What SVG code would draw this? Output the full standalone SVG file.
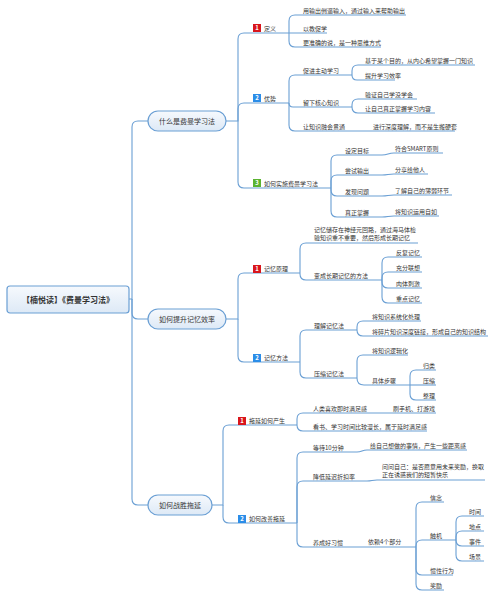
<svg xmlns="http://www.w3.org/2000/svg" width="494" height="599" viewBox="0 0 494 599">
<defs>
<linearGradient id="ng" x1="0" y1="0" x2="0" y2="1">
<stop offset="0" stop-color="#f6f9fd"/>
<stop offset="1" stop-color="#dde9f6"/>
</linearGradient>
<style>
text{font-family:"Noto Sans CJK SC","Noto Sans",sans-serif;fill:#333}
.t{font-size:6px}
.l1{font-size:7px;text-anchor:middle}
.root{font-size:8px;font-weight:bold;text-anchor:middle}
.n{fill:url(#ng);stroke:#6a9fd4;stroke-width:1.2}
.c path{fill:none;stroke:#6a9fd4;stroke-width:1.1}
.ic{font-size:6px;font-weight:bold;fill:#fff;text-anchor:middle}
.r{fill:#d9161c}.b{fill:#2b8de8}.g{fill:#5bb331}
</style>
</defs>
<rect width="494" height="599" fill="#fff"/>
<g class="c" id="connectors">
<path d="M129,299 H132 V127 Q132,121 138,121 H148"/>
<path d="M132,299 V313 Q132,319 138,319 H148"/>
<path d="M132,299 V499 Q132,505 138,505 H148"/>
<path d="M226,121 H238 V39 Q238,33 244,33 H289"/>
<path d="M238,121 V109 Q238,103 244,103 H289"/>
<path d="M238,121 V182 Q238,188 244,188 H331"/>
<path d="M289,33 V21 Q289,15 295,15 H406"/>
<path d="M289,33 H327"/>
<path d="M289,33 V41 Q289,47 295,47 H381"/>
<path d="M289,103 V81 Q289,75 295,75 H352"/>
<path d="M289,103 Q289,107 293,107 H352"/>
<path d="M289,103 V125 Q289,131 295,131 H455"/>
<path d="M352,75 V71 Q352,65 358,65 H475"/>
<path d="M352,75 Q352,80 357,80 H395"/>
<path d="M352,107 V105 Q352,99 358,99 H417"/>
<path d="M352,107 Q352,113 358,113 H435"/>
<path d="M331,188 V161 Q331,155 337,155 H382 C388,155 388,153 394,153 H443"/>
<path d="M331,188 V181 Q331,175 337,175 H382 C388,175 388,174 394,174 H428"/>
<path d="M331,188 V190 Q331,196 337,196 H382 C388,196 388,195 394,195 H452"/>
<path d="M331,188 V211 Q331,217 337,217 H382 C388,217 388,216 394,216 H439"/>
<path d="M226,319 H238 V279 Q238,273 244,273 H300"/>
<path d="M238,319 V356 Q238,362 244,362 H300"/>
<path d="M300,273 V249 Q300,243 306,243 H418"/>
<path d="M300,273 V274 Q300,280 306,280 H382"/>
<path d="M382,280 V263 Q382,257 388,257 H422"/>
<path d="M382,280 V278 Q382,272 388,272 H422"/>
<path d="M382,280 V282 Q382,288 388,288 H422"/>
<path d="M382,280 V297 Q382,303 388,303 H422"/>
<path d="M300,362 V336 Q300,330 306,330 H357"/>
<path d="M300,362 V372 Q300,378 306,378 H357"/>
<path d="M357,330 V327 Q357,321 363,321 H421"/>
<path d="M357,330 Q357,336 363,336 H488"/>
<path d="M357,378 V361 Q357,355 363,355 H408"/>
<path d="M357,378 Q357,385 364,385 H410"/>
<path d="M410,385 V376 Q410,370 416,370 H436"/>
<path d="M410,385 H436"/>
<path d="M410,385 V394 Q410,400 416,400 H436"/>
<path d="M212,505 H223 V431 Q223,425 229,425 H297"/>
<path d="M223,505 V517 Q223,523 229,523 H297"/>
<path d="M297,425 V419 Q297,413 303,413 H436"/>
<path d="M297,425 Q297,431 303,431 H427"/>
<path d="M297,523 V458 Q297,452 303,452 H357 C362,452 362,450 367,450 H467"/>
<path d="M297,523 V487 Q297,481 303,481 H367 C372,481 372,480 377,480 H485"/>
<path d="M297,523 V541 Q297,547 303,547 H416"/>
<path d="M416,547 V508 Q416,502 422,502 H444"/>
<path d="M416,547 V546 Q416,540 422,540 H456"/>
<path d="M416,547 V569 Q416,575 422,575 H453"/>
<path d="M416,547 V584 Q416,590 422,590 H444"/>
<path d="M456,540 V522 Q456,516 462,516 H484"/>
<path d="M456,540 V537 Q456,531 462,531 H484"/>
<path d="M456,540 Q456,546 462,546 H484"/>
<path d="M456,540 V555 Q456,561 462,561 H484"/>
</g>
<g id="root"><rect class="n" x="7" y="286" width="122" height="27" rx="3"/><text class="root" x="68" y="302.5">【楠悦读】《费曼学习法》</text></g>
<g id="n1"><rect class="n" x="148" y="111" width="78" height="20" rx="10"/><text class="l1" x="187" y="123.5">什么是费曼学习法</text></g>
<g id="n2"><rect class="n" x="148" y="309" width="78" height="20" rx="10"/><text class="l1" x="187" y="321.5">如何提升记忆效率</text></g>
<g id="n3"><rect class="n" x="148" y="495" width="64" height="20" rx="10"/><text class="l1" x="180" y="507.5">如何战胜拖延</text></g>
<g id="n1-1"><rect class="r" x="253" y="24" width="8" height="8"/><text class="ic" x="257" y="30.3">1</text><text class="t" x="264" y="30.5">定义</text></g>
<g id="n1-1-1"><text class="t" x="303" y="12.5">用输出倒逼输入，通过输入来帮助输出</text></g>
<g id="n1-1-2"><text class="t" x="303" y="30.5">以教促学</text></g>
<g id="n1-1-3"><text class="t" x="303" y="44.5">更准确的说，是一种思维方式</text></g>
<g id="n1-2"><rect class="b" x="253" y="94" width="8" height="8"/><text class="ic" x="257" y="100.3">2</text><text class="t" x="264" y="100.5">优势</text></g>
<g id="n1-2-1"><text class="t" x="303" y="72.5">促进主动学习</text></g>
<g id="n1-2-1-1"><text class="t" x="365" y="62.5">基于某个目的，从内心希望掌握一门知识</text></g>
<g id="n1-2-1-2"><text class="t" x="365" y="77.5">提升学习效率</text></g>
<g id="n1-2-2"><text class="t" x="303" y="104.5">留下核心知识</text></g>
<g id="n1-2-2-1"><text class="t" x="365" y="96.5">验证自己学没学会</text></g>
<g id="n1-2-2-2"><text class="t" x="365" y="110.5">让自己真正掌握学习内容</text></g>
<g id="n1-2-3"><text class="t" x="303" y="128.5">让知识融会贯通</text></g>
<g id="n1-2-3-1"><text class="t" x="373" y="128.5">进行深度理解，而不是生搬硬套</text></g>
<g id="n1-3"><rect class="g" x="253" y="179" width="8" height="8"/><text class="ic" x="257" y="185.3">3</text><text class="t" x="264" y="185.5">如何实施费曼学习法</text></g>
<g id="n1-3-1"><text class="t" x="345" y="152.5">设定目标</text><text class="t" x="395" y="150.5">符合SMART原则</text></g>
<g id="n1-3-2"><text class="t" x="345" y="172.5">尝试输出</text><text class="t" x="395" y="171.5">分享给他人</text></g>
<g id="n1-3-3"><text class="t" x="345" y="193.5">发现问题</text><text class="t" x="395" y="192.5">了解自己的薄弱环节</text></g>
<g id="n1-3-4"><text class="t" x="345" y="214.5">真正掌握</text><text class="t" x="395" y="213.5">将知识运用自如</text></g>
<g id="n2-1"><rect class="r" x="253" y="265" width="8" height="8"/><text class="ic" x="257" y="271.3">1</text><text class="t" x="264" y="270.5">记忆原理</text></g>
<g id="n2-1-1"><text class="t" x="314" y="231.5">记忆储存在神经元回路，通过海马体检</text><text class="t" x="314" y="240">验知识重不重要，然后形成长期记忆</text></g>
<g id="n2-1-2"><text class="t" x="314" y="277.5">变成长期记忆的方法</text></g>
<g id="n2-1-2-x"><text class="t" x="396" y="254.5">反复记忆</text><text class="t" x="396" y="269.5">充分联想</text><text class="t" x="396" y="285.5">肉体刺激</text><text class="t" x="396" y="300.5">重点记忆</text></g>
<g id="n2-2"><rect class="b" x="253" y="354" width="8" height="8"/><text class="ic" x="257" y="360.3">2</text><text class="t" x="264" y="359.5">记忆方法</text></g>
<g id="n2-2-1"><text class="t" x="314" y="327.5">理解记忆法</text></g>
<g id="n2-2-1-x"><text class="t" x="372" y="318.5">将知识系统化处理</text><text class="t" x="372" y="333.5">将碎片知识深度链接，形成自己的知识结构</text></g>
<g id="n2-2-2"><text class="t" x="314" y="375.5">压缩记忆法</text></g>
<g id="n2-2-2-1"><text class="t" x="372" y="352.5">将知识逻辑化</text></g>
<g id="n2-2-2-2"><text class="t" x="372" y="382.5">具体步骤</text></g>
<g id="n2-2-2-2-x"><text class="t" x="423" y="367.5">归类</text><text class="t" x="423" y="382.5">压缩</text><text class="t" x="423" y="397.5">整理</text></g>
<g id="n3-1"><rect class="r" x="238" y="417" width="8" height="8"/><text class="ic" x="242" y="423.3">1</text><text class="t" x="249" y="422.5">拖延如何产生</text></g>
<g id="n3-1-1"><text class="t" x="313" y="410.5">人类喜欢即时满足感</text><text class="t" x="393" y="410.5">刷手机、打游戏</text></g>
<g id="n3-1-2"><text class="t" x="313" y="428.5">看书、学习时间比较漫长，属于延时满足感</text></g>
<g id="n3-2"><rect class="b" x="238" y="515" width="8" height="8"/><text class="ic" x="242" y="521.3">2</text><text class="t" x="249" y="520.5">如何改善拖延</text></g>
<g id="n3-2-1"><text class="t" x="313" y="449.5">等待10分钟</text><text class="t" x="370" y="447.5">给自己想做的事情，产生一些距离感</text></g>
<g id="n3-2-2"><text class="t" x="313" y="478.5">降低延迟折扣率</text><text class="t" x="382" y="469">问问自己：是否愿意用未来奖励，换取</text><text class="t" x="382" y="477">正在诱惑我们的短暂快乐</text></g>
<g id="n3-2-3"><text class="t" x="313" y="544.5">养成好习惯</text><text class="t" x="368" y="543.5">依赖4个部分</text></g>
<g id="n3-2-3-x"><text class="t" x="430" y="499.5">信念</text><text class="t" x="430" y="537.5">触机</text><text class="t" x="430" y="572.5">惯性行为</text><text class="t" x="430" y="587.5">奖励</text></g>
<g id="n3-2-3-2-x"><text class="t" x="469" y="513.5">时间</text><text class="t" x="469" y="528.5">地点</text><text class="t" x="469" y="543.5">事件</text><text class="t" x="469" y="558.5">场景</text></g>
</svg>
